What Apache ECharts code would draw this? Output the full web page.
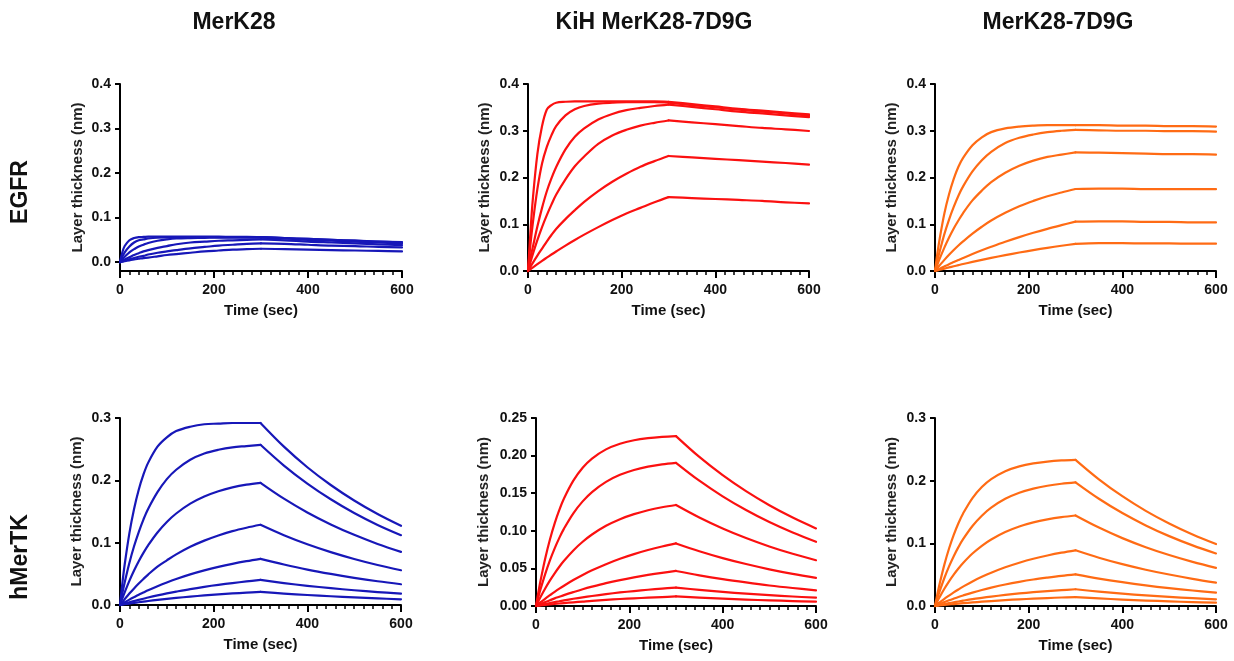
<!DOCTYPE html>
<html>
<head>
<meta charset="utf-8">
<script src="https://cdn.jsdelivr.net/npm/echarts@6/dist/echarts.min.js"></script>
<style>
html,body{margin:0;padding:0;background:#fff;}
#chart{width:1234px;height:661px;}
</style>
</head>
<body>
<div id="chart"></div>
<script>
// ---- data ----
const columnTitles = ['MerK28', 'KiH MerK28-7D9G', 'MerK28-7D9G'];
const rowTitles = ['EGFR', 'hMerTK'];
const xTickLabels = [0, 200, 400, 600];
const yTicksTop = [0, 0.1, 0.2, 0.3, 0.4];
const yTicksBottomA = [0, 0.1, 0.2, 0.3];
const yTicksBottomB = [0, 0.05, 0.10, 0.15, 0.20, 0.25];

const times = [0,5,10,20,30,40,50,60,80,100,120,150,180,210,240,270,300,350,400,450,500,550,600];
const dissociationStart = 300; // association phase ends / dissociation begins (s)

// EGFR / MerK28 (blue)
const egfrMerK28 = [
  [0,0.022,0.036,0.049,0.054,0.056,0.0565,0.057,0.057,0.057,0.057,0.057,0.057,0.057,0.0565,0.0565,0.056,0.054,0.052,0.050,0.048,0.046,0.045],
  [0,0.012,0.022,0.035,0.044,0.049,0.051,0.053,0.055,0.0557,0.056,0.056,0.056,0.056,0.056,0.056,0.056,0.054,0.052,0.050,0.048,0.046,0.044],
  [0,0.0065,0.012,0.022,0.029,0.035,0.039,0.043,0.048,0.051,0.053,0.054,0.0545,0.055,0.055,0.055,0.055,0.053,0.050,0.048,0.046,0.044,0.042],
  [0,0.003,0.006,0.011,0.016,0.020,0.024,0.027,0.032,0.036,0.040,0.044,0.046,0.048,0.049,0.050,0.051,0.049,0.046,0.044,0.042,0.040,0.038],
  [0,0.0017,0.0033,0.0064,0.009,0.012,0.014,0.017,0.021,0.024,0.027,0.031,0.034,0.037,0.039,0.041,0.042,0.041,0.039,0.037,0.036,0.034,0.033],
  [0,0.001,0.002,0.004,0.006,0.0075,0.009,0.010,0.013,0.016,0.018,0.021,0.024,0.026,0.028,0.029,0.030,0.029,0.028,0.027,0.026,0.025,0.024]
];
// EGFR / KiH MerK28-7D9G (red)
const egfrKiH = [
  [0,0.08,0.15,0.25,0.31,0.345,0.355,0.36,0.362,0.363,0.363,0.363,0.363,0.363,0.363,0.363,0.362,0.357,0.352,0.347,0.343,0.339,0.335],
  [0,0.055,0.10,0.175,0.23,0.265,0.29,0.31,0.333,0.346,0.353,0.358,0.36,0.361,0.361,0.361,0.36,0.355,0.35,0.345,0.341,0.337,0.332],
  [0,0.028,0.05,0.095,0.135,0.17,0.198,0.222,0.26,0.287,0.305,0.324,0.336,0.344,0.349,0.353,0.356,0.351,0.346,0.341,0.337,0.333,0.329],
  [0,0.018,0.035,0.066,0.094,0.119,0.142,0.163,0.196,0.224,0.245,0.272,0.290,0.302,0.311,0.317,0.322,0.318,0.314,0.310,0.306,0.303,0.2995],
  [0,0.0085,0.017,0.033,0.048,0.063,0.077,0.090,0.111,0.130,0.148,0.171,0.191,0.208,0.223,0.235,0.246,0.243,0.240,0.237,0.234,0.231,0.2275],
  [0,0.0037,0.0074,0.0147,0.0218,0.0286,0.0353,0.0418,0.0544,0.0664,0.0778,0.0939,0.109,0.123,0.135,0.147,0.158,0.156,0.154,0.152,0.150,0.147,0.1447]
];
// EGFR / MerK28-7D9G (orange)
const egfr7D9G = [
  [0,0.037,0.069,0.123,0.164,0.197,0.223,0.242,0.269,0.286,0.297,0.305,0.309,0.311,0.312,0.312,0.312,0.312,0.311,0.311,0.310,0.310,0.309],
  [0,0.022,0.042,0.079,0.110,0.137,0.161,0.181,0.213,0.237,0.255,0.274,0.285,0.292,0.297,0.300,0.302,0.301,0.300,0.300,0.299,0.299,0.298],
  [0,0.0135,0.0264,0.050,0.0716,0.091,0.108,0.124,0.151,0.172,0.190,0.210,0.225,0.236,0.244,0.249,0.2537,0.253,0.252,0.251,0.250,0.250,0.249],
  [0,0.0062,0.0122,0.0238,0.0347,0.0448,0.0544,0.0634,0.080,0.0947,0.108,0.1245,0.1386,0.150,0.160,0.168,0.1754,0.176,0.176,0.175,0.175,0.175,0.175],
  [0,0.0025,0.005,0.0098,0.0145,0.019,0.0235,0.0279,0.0363,0.0442,0.0518,0.0626,0.0725,0.0817,0.0902,0.098,0.1055,0.106,0.106,0.105,0.105,0.104,0.104],
  [0,0.0013,0.0026,0.0052,0.0077,0.0101,0.0125,0.0149,0.0194,0.0238,0.028,0.034,0.0395,0.0447,0.0495,0.054,0.058,0.0595,0.0595,0.059,0.059,0.0585,0.0585]
];
// hMerTK / MerK28 (blue)
const merMerK28 = [
  [0,0.0345,0.065,0.115,0.154,0.185,0.209,0.228,0.254,0.269,0.279,0.286,0.290,0.291,0.292,0.292,0.292,0.254,0.221,0.1925,0.1676,0.1459,0.127],
  [0,0.0186,0.0362,0.0674,0.0942,0.117,0.137,0.154,0.181,0.202,0.217,0.233,0.243,0.249,0.253,0.255,0.257,0.2237,0.1948,0.1696,0.1476,0.1285,0.112],
  [0,0.0105,0.0204,0.0388,0.0554,0.0703,0.0837,0.0957,0.1164,0.1333,0.1468,0.1626,0.174,0.1825,0.1886,0.193,0.196,0.1706,0.1485,0.1293,0.1126,0.098,0.0853],
  [0,0.0048,0.0094,0.0183,0.0266,0.0344,0.0418,0.0488,0.0616,0.0717,0.0812,0.0934,0.1033,0.1116,0.1185,0.124,0.1287,0.112,0.0975,0.0849,0.0739,0.0642,0.0558],
  [0,0.0022,0.0044,0.0086,0.0126,0.0165,0.0201,0.0237,0.0302,0.0362,0.0417,0.0491,0.0555,0.0611,0.066,0.0703,0.0741,0.065,0.0568,0.0498,0.0436,0.0381,0.0333],
  [0,0.0011,0.0022,0.0043,0.0064,0.0083,0.0101,0.012,0.0154,0.0186,0.0215,0.0256,0.0292,0.0324,0.0352,0.0378,0.0402,0.0352,0.0308,0.027,0.0237,0.0208,0.0182],
  [0,0.0006,0.0012,0.0023,0.0034,0.0044,0.0054,0.0064,0.0082,0.0099,0.0114,0.0135,0.0154,0.017,0.0185,0.0198,0.021,0.0183,0.016,0.014,0.0122,0.0106,0.0091]
];
// hMerTK / KiH MerK28-7D9G (red)
const merKiH = [
  [0,0.018,0.0346,0.0639,0.0888,0.1099,0.1278,0.143,0.1667,0.1838,0.1961,0.2083,0.2158,0.2204,0.2232,0.2249,0.2259,0.1982,0.174,0.1527,0.134,0.1176,0.1032],
  [0,0.0118,0.0229,0.0431,0.061,0.0767,0.0906,0.1029,0.1233,0.1391,0.1515,0.1651,0.1744,0.1809,0.1853,0.1883,0.1904,0.1666,0.1458,0.1276,0.1116,0.0977,0.0854],
  [0,0.0063,0.0124,0.0237,0.0341,0.0435,0.0522,0.0601,0.0739,0.0854,0.0951,0.1067,0.1155,0.1222,0.1274,0.1313,0.1343,0.1177,0.1031,0.0904,0.0792,0.0694,0.0609],
  [0,0.0026,0.005,0.0099,0.0144,0.0188,0.023,0.027,0.0345,0.0413,0.0474,0.0556,0.0628,0.069,0.0744,0.0791,0.0832,0.0728,0.0637,0.0558,0.0488,0.0427,0.0374],
  [0,0.0014,0.0027,0.0052,0.0077,0.0101,0.0123,0.0145,0.0185,0.0223,0.0257,0.0304,0.0345,0.0381,0.0413,0.0441,0.0466,0.0408,0.0357,0.0313,0.0273,0.0239,0.0209],
  [0,0.0007,0.0014,0.0027,0.0039,0.0052,0.0063,0.0075,0.0096,0.0115,0.0133,0.0158,0.018,0.0199,0.0216,0.0231,0.0245,0.0214,0.0187,0.0164,0.0144,0.0126,0.0111],
  [0,0.0004,0.0007,0.0014,0.002,0.0027,0.0033,0.0039,0.0049,0.0059,0.0069,0.0081,0.0093,0.0102,0.0111,0.0119,0.0127,0.0111,0.0097,0.0085,0.0075,0.0066,0.0058]
];
// hMerTK / MerK28-7D9G (orange)
const mer7D9G = [
  [0,0.0186,0.0357,0.066,0.0917,0.1135,0.1321,0.1477,0.1723,0.1899,0.2026,0.2152,0.2229,0.2276,0.2305,0.2323,0.2333,0.2022,0.1752,0.1518,0.1316,0.114,0.0988],
  [0,0.0122,0.0237,0.0447,0.0632,0.0795,0.0939,0.1066,0.1277,0.1441,0.1569,0.171,0.1807,0.1874,0.1919,0.1951,0.1973,0.1711,0.1483,0.1286,0.1115,0.0967,0.0838],
  [0,0.0074,0.0145,0.0276,0.0394,0.0501,0.0598,0.0686,0.0837,0.0961,0.1062,0.1181,0.1269,0.1334,0.1382,0.1418,0.1444,0.1251,0.1083,0.0938,0.0813,0.0704,0.0609],
  [0,0.003,0.0059,0.0115,0.0167,0.0217,0.0264,0.0309,0.0392,0.0465,0.0531,0.0618,0.0691,0.0754,0.0806,0.0851,0.0889,0.0771,0.0668,0.0579,0.0502,0.0434,0.0374],
  [0,0.0016,0.0032,0.0062,0.0091,0.0118,0.0144,0.0168,0.0214,0.0256,0.0293,0.0343,0.0386,0.0423,0.0454,0.0482,0.0505,0.0438,0.038,0.0329,0.0285,0.0247,0.0214],
  [0,0.0008,0.0016,0.0031,0.0045,0.0059,0.0072,0.0085,0.0109,0.013,0.015,0.0177,0.02,0.022,0.0238,0.0253,0.0267,0.0229,0.0197,0.0169,0.0145,0.0125,0.0107],
  [0,0.0004,0.0008,0.0016,0.0024,0.0031,0.0038,0.0045,0.0057,0.0069,0.0079,0.0094,0.0106,0.0117,0.0127,0.0136,0.0143,0.0121,0.0103,0.0087,0.0074,0.0062,0.0053]
];

// ---- layout / style ----
const FONT = '"Liberation Sans", Arial, Helvetica, sans-serif';
const BLUE = '#1717b8', RED = '#fb1010', ORANGE = '#ff6b14';

const panels = [
  {curves: egfrMerK28, color: BLUE,   grid: {left:120, top:84, width:282, height:187}, yMin:-0.02, yMax:0.4,  ticks:yTicksTop, dec:1, gap:35},
  {curves: egfrKiH,    color: RED,    grid: {left:528, top:84, width:281, height:187}, yMin:0,     yMax:0.4,  ticks:yTicksTop, dec:1, gap:36},
  {curves: egfr7D9G,   color: ORANGE, grid: {left:935, top:84, width:281, height:187}, yMin:0,     yMax:0.4,  ticks:yTicksTop, dec:1, gap:36},
  {curves: merMerK28,  color: BLUE,   grid: {left:120, top:418, width:281, height:187}, yMin:0,    yMax:0.3,  ticks:yTicksBottomA, dec:1, gap:36},
  {curves: merKiH,     color: RED,    grid: {left:536, top:418, width:280, height:188}, yMin:0,    yMax:0.25, ticks:yTicksBottomB, dec:2, gap:45},
  {curves: mer7D9G,    color: ORANGE, grid: {left:935, top:418, width:281, height:188}, yMin:0,    yMax:0.3,  ticks:yTicksBottomA, dec:1, gap:36}
];

const splitIdx = times.indexOf(dissociationStart);
const grids = [], xAxes = [], yAxes = [], series = [];
panels.forEach((p, i) => {
  grids.push(Object.assign({containLabel:false}, p.grid));
  xAxes.push({
    type:'value', gridIndex:i, min:0, max:600, interval:200,
    name:'Time (sec)', nameLocation:'middle', nameGap:32,
    nameTextStyle:{fontFamily:FONT, fontSize:15, fontWeight:'bold', color:'#111'},
    axisLine:{show:true, onZero:false, lineStyle:{color:'#000', width:2}},
    axisTick:{show:true, length:7, lineStyle:{color:'#000', width:2}},
    minorTick:{show:true, splitNumber:10, length:4, lineStyle:{color:'#000', width:1.5}},
    splitLine:{show:false}, minorSplitLine:{show:false},
    axisLabel:{fontFamily:FONT, fontSize:14, fontWeight:'bold', color:'#111', margin:12,
      customValues: xTickLabels}
  });
  yAxes.push({
    type:'value', gridIndex:i, min:p.yMin, max:p.yMax,
    name:'Layer thickness (nm)', nameLocation:'middle', nameGap:p.gap,
    nameTextStyle:{fontFamily:FONT, fontSize:15, fontWeight:'bold', color:'#222'},
    axisLine:{show:true, onZero:false, lineStyle:{color:'#000', width:2}},
    axisTick:{show:true, length:5, lineStyle:{color:'#000', width:2}, customValues:p.ticks},
    splitLine:{show:false},
    axisLabel:{fontFamily:FONT, fontSize:14, fontWeight:'bold', color:'#111', margin:9,
      customValues:p.ticks, formatter:(v)=>Number(v).toFixed(p.dec)}
  });
  p.curves.forEach((c) => {
    const pts = times.map((t, k) => [t, c[k]]);
    // association phase and dissociation phase drawn as two smooth pieces joined at the kink
    [pts.slice(0, splitIdx + 1), pts.slice(splitIdx)].forEach((seg) => {
      series.push({
        type:'line', xAxisIndex:i, yAxisIndex:i, showSymbol:false, symbol:'none',
        smooth:0.35,
        data: seg,
        lineStyle:{color:p.color, width:2.2, cap:'round', join:'round'}, itemStyle:{color:p.color},
        silent:true, clip:false
      });
    });
  });
});

const colCenters = [234, 654, 1058];
const graphic = [];
columnTitles.forEach((t, i) => graphic.push({
  type:'text', x:colCenters[i], y:23,
  style:{text:t, fontFamily:FONT, fontSize:23, fontWeight:'bold', fill:'#111', align:'center', verticalAlign:'middle'}
}));
const rowCenters = [192, 557];
rowTitles.forEach((t, i) => graphic.push({
  type:'text', x:21, y:rowCenters[i], rotation:Math.PI/2,
  style:{text:t, fontFamily:FONT, fontSize:23, fontWeight:'bold', fill:'#111', align:'center', verticalAlign:'middle'}
}));

const chart = echarts.init(document.getElementById('chart'), null, {renderer:'canvas'});
chart.setOption({
  animation:false,
  backgroundColor:'#fff',
  grid:grids, xAxis:xAxes, yAxis:yAxes, series:series, graphic:graphic
});
</script>
</body>
</html>
